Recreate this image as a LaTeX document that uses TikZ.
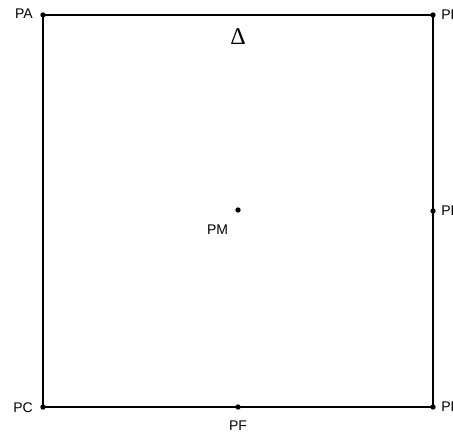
\documentclass[tikz,border=0pt]{standalone}
\usepackage{fontspec}
\setmainfont{Liberation Sans}
\newfontfamily\serifdelta{Liberation Serif}
\begin{document}
\begin{tikzpicture}[x=0.75pt,y=-0.75pt,
  pt/.style={circle,fill=black,inner sep=0pt,minimum size=4pt},
  lbl/.style={font=\fontsize{10.5}{12}\selectfont,inner sep=0pt},
  edge/.style={line width=1.2pt,black}]
\useasboundingbox (0,0) rectangle (453,434);
\node[pt] (PA) at (43,15) {};
\node[pt] (PB) at (433,15) {};
\node[pt] (PC) at (43,407) {};
\node[pt] (PD) at (433,407) {};
\node[pt] (PE) at (433,211) {};
\node[pt] (PF) at (238,407) {};
\node[pt] (PM) at (238,210) {};
\draw[edge] (PA.center) -- (PB.center) -- (PE.center) -- (PD.center) -- (PF.center) -- (PC.center) -- (PA.center);
\node[lbl,anchor=east] (lA) at (33,14) {PA};
\node[lbl,anchor=east] (lC) at (33,408) {PC};
\node[lbl,anchor=west] (lB) at (441,15) {PB};
\node[lbl,anchor=west] (lE) at (441,211) {PE};
\node[lbl,anchor=west] (lD) at (441,407) {PD};
\node[lbl] (lF) at (238,425.5) {PF};
\node[lbl] (lM) at (217.5,230) {PM};
\node[font=\serifdelta\fontsize{18}{20}\selectfont,inner sep=0pt] (delta) at (238,37) {Δ};
\end{tikzpicture}
\end{document}
